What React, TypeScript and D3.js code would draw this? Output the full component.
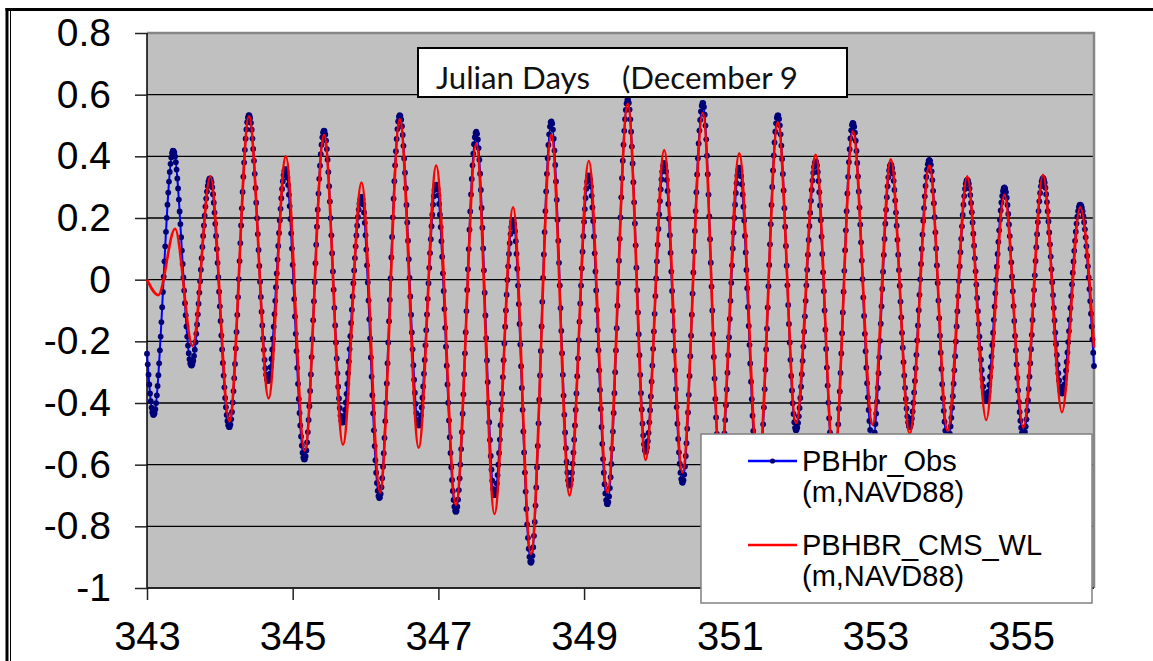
import React, { useEffect, useRef } from 'react';
import * as d3 from 'd3';

// tide extrema (Julian day, water level m NAVD88)
const obsDays = [
  343.0, 343.09, 343.36, 343.61, 343.865, 344.13, 344.4, 344.66, 344.9, 345.16,
  345.43, 345.68, 345.945, 346.19, 346.47, 346.73, 346.97, 347.24, 347.52, 347.77,
  348.025, 348.27, 348.55, 348.8, 349.065, 349.32, 349.6, 349.845, 350.1, 350.35,
  350.63, 350.87, 351.13, 351.39, 351.66, 351.91, 352.18, 352.43, 352.69, 352.96,
  353.21, 353.47, 353.74, 353.99, 354.26, 354.52, 354.77, 355.03, 355.3, 355.56,
  355.81, 356.0,
];
const obsLevels = [
  -0.24, -0.44, 0.42, -0.28, 0.33, -0.48, 0.535, -0.33, 0.36, -0.585,
  0.485, -0.465, 0.27, -0.71, 0.535, -0.475, 0.31, -0.755, 0.48, -0.7,
  0.195, -0.92, 0.515, -0.67, 0.34, -0.73, 0.585, -0.56, 0.38, -0.66,
  0.575, -0.62, 0.365, -0.66, 0.535, -0.49, 0.385, -0.62, 0.51, -0.53,
  0.375, -0.48, 0.39, -0.53, 0.325, -0.395, 0.3, -0.51, 0.33, -0.37,
  0.245, -0.28,
];
const modelDays = [
  343.0, 343.155, 343.385, 343.625, 343.87, 344.13, 344.4, 344.67, 344.905, 345.165,
  345.43, 345.69, 345.945, 346.2, 346.47, 346.73, 346.97, 347.24, 347.52, 347.77,
  348.025, 348.27, 348.55, 348.8, 349.065, 349.32, 349.6, 349.845, 350.1, 350.35,
  350.63, 350.87, 351.13, 351.39, 351.66, 351.91, 352.18, 352.43, 352.69, 352.96,
  353.21, 353.47, 353.74, 353.99, 354.26, 354.52, 354.77, 355.03, 355.3, 355.56,
  355.81, 356.0,
];
const modelLevels = [
  0.0, -0.05, 0.165, -0.215, 0.335, -0.46, 0.53, -0.385, 0.4, -0.555,
  0.47, -0.535, 0.315, -0.69, 0.52, -0.545, 0.37, -0.73, 0.44, -0.76,
  0.235, -0.89, 0.47, -0.7, 0.385, -0.69, 0.57, -0.585, 0.42, -0.625,
  0.54, -0.6, 0.41, -0.62, 0.51, -0.465, 0.405, -0.6, 0.48, -0.47,
  0.39, -0.5, 0.37, -0.49, 0.335, -0.455, 0.275, -0.48, 0.34, -0.43,
  0.235, -0.22,
];

const yTicks = [0.8, 0.6, 0.4, 0.2, 0, -0.2, -0.4, -0.6, -0.8, -1];
const xTicks = [343, 345, 347, 349, 351, 353, 355];
const seriesNames = ['PBHbr_Obs', 'PBHBR_CMS_WL'];
const unitsLabel = '(m,NAVD88)';
const titleText = 'Julian Days    (December 9';
const obsIntervalMinutes = 15;

const W = 1153;
const H = 661;
const plot = { left: 147, right: 1094, top: 33, bottom: 588 };
const font = 'Liberation Sans, Arial, sans-serif';
const markerFill = '#000078';

const App = () => {
  const svgRef = useRef<SVGSVGElement>(null);

  useEffect(() => {
    const svg = d3.select(svgRef.current);
    svg.selectAll('*').remove();

    const x = d3.scaleLinear().domain([343, 356]).range([plot.left, plot.right]);
    const y = d3.scaleLinear().domain([-1, 0.8]).range([plot.bottom, plot.top]);

    // page frame (double rule on the left, heavy rule on top)
    svg.append('line').attr('x1', 7).attr('x2', 7).attr('y1', 8).attr('y2', H)
      .attr('stroke', '#000').attr('stroke-width', 3);
    svg.append('line').attr('x1', 10.5).attr('x2', 10.5).attr('y1', 11).attr('y2', H)
      .attr('stroke', '#000').attr('stroke-width', 1);
    svg.append('line').attr('x1', 5.5).attr('x2', W).attr('y1', 9.5).attr('y2', 9.5)
      .attr('stroke', '#000').attr('stroke-width', 3);

    // plot area
    svg.append('rect')
      .attr('x', plot.left).attr('y', plot.top)
      .attr('width', plot.right - plot.left).attr('height', plot.bottom - plot.top)
      .attr('fill', '#c0c0c0');

    svg.append('g')
      .selectAll('line')
      .data(yTicks.slice(1))
      .enter()
      .append('line')
      .attr('x1', plot.left).attr('x2', plot.right)
      .attr('y1', (d) => y(d)).attr('y2', (d) => y(d))
      .attr('stroke', '#000').attr('stroke-width', 1.3);

    svg.append('path')
      .attr('d', `M${plot.left},${plot.top}H${plot.right}V${plot.bottom}`)
      .attr('fill', 'none').attr('stroke', '#868686').attr('stroke-width', 2.5);
    svg.append('line').attr('x1', plot.left).attr('x2', plot.left)
      .attr('y1', plot.top).attr('y2', plot.bottom + 1)
      .attr('stroke', '#000').attr('stroke-width', 1.5);
    svg.append('line').attr('x1', plot.left).attr('x2', plot.right)
      .attr('y1', plot.bottom).attr('y2', plot.bottom)
      .attr('stroke', '#222').attr('stroke-width', 1.5);

    // axes
    const yAxis = svg.append('g')
      .attr('transform', `translate(${plot.left},0)`)
      .call(d3.axisLeft(y).tickValues(yTicks).tickSize(12).tickPadding(24).tickFormat((d) => String(d)));
    const xAxis = svg.append('g')
      .attr('transform', `translate(0,${plot.bottom})`)
      .call(d3.axisBottom(x).tickValues(xTicks).tickSize(12).tickPadding(22).tickFormat((d) => String(d)));
    [yAxis, xAxis].forEach((g) => {
      g.select('.domain').remove();
      g.selectAll('line').attr('stroke', '#222').attr('stroke-width', 1.5);
      g.selectAll('text').attr('fill', '#000').style('font-family', font);
    });
    yAxis.selectAll('text').style('font-size', '39px');
    xAxis.selectAll('text').style('font-size', '40px');

    // series
    const toPath = (days: number[], levels: number[]) =>
      d3.line<number>()
        .x((_, i) => x(days[i]))
        .y((_, i) => y(levels[i]))
        .curve(d3.curveMonotoneX)(days);

    const obsPath = svg.append('path')
      .attr('d', toPath(obsDays, obsLevels))
      .attr('fill', 'none').attr('stroke', '#0000ff').attr('stroke-width', 2);

    // observation markers at the record interval, placed on the drawn curve
    const node = obsPath.node() as SVGPathElement;
    const total = node.getTotalLength();
    const samples: [number, number][] = [];
    for (let s = 0; s <= total; s += 1.5) {
      const p = node.getPointAtLength(s);
      samples.push([p.x, p.y]);
    }
    const endPt = node.getPointAtLength(total);
    samples.push([endPt.x, endPt.y]);
    const stepDay = obsIntervalMinutes / 60 / 24;
    const n = Math.round((obsDays[obsDays.length - 1] - obsDays[0]) / stepDay);
    const pts: [number, number][] = [];
    let j = 1;
    for (let k = 0; k <= n; k++) {
      const px = x(obsDays[0] + k * stepDay);
      while (j < samples.length - 1 && samples[j][0] < px) j++;
      const a = samples[j - 1];
      const b = samples[j];
      const f = b[0] === a[0] ? 0 : Math.max(0, Math.min(1, (px - a[0]) / (b[0] - a[0])));
      pts.push([px, a[1] + (b[1] - a[1]) * f]);
    }
    svg.append('g')
      .selectAll('circle')
      .data(pts)
      .enter()
      .append('circle')
      .attr('cx', (d) => d[0]).attr('cy', (d) => d[1])
      .attr('r', 2.9)
      .attr('fill', markerFill);

    svg.append('path')
      .attr('d', toPath(modelDays, modelLevels))
      .attr('fill', 'none').attr('stroke', '#ff0000').attr('stroke-width', 2.6);

    // title box
    svg.append('rect')
      .attr('x', 418).attr('y', 48).attr('width', 429).attr('height', 49)
      .attr('fill', '#fff').attr('stroke', '#000').attr('stroke-width', 2);
    svg.append('text')
      .attr('x', 436).attr('y', 89)
      .attr('textLength', 362).attr('lengthAdjust', 'spacingAndGlyphs')
      .style('white-space', 'pre')
      .style('font-family', 'Lato, Open Sans, sans-serif')
      .style('font-size', '30px')
      .attr('fill', '#111')
      .text(titleText);

    // legend
    const legend = svg.append('g');
    legend.append('rect')
      .attr('x', 701).attr('y', 434).attr('width', 391).attr('height', 169)
      .attr('fill', '#fff').attr('stroke', '#808080').attr('stroke-width', 1.5);
    const colors = ['#0000ff', '#ff0000'];
    const rows = [461, 545];
    seriesNames.forEach((name, i) => {
      legend.append('line')
        .attr('x1', 748).attr('x2', 797).attr('y1', rows[i]).attr('y2', rows[i])
        .attr('stroke', colors[i]).attr('stroke-width', i === 0 ? 2.4 : 2.6);
      if (i === 0) {
        legend.append('circle').attr('cx', 772.5).attr('cy', rows[i]).attr('r', 2.6).attr('fill', markerFill);
      }
      legend.append('text')
        .attr('x', 802).attr('y', rows[i] + 10)
        .style('font-family', font).style('font-size', '29px').attr('fill', '#000')
        .text(name);
      legend.append('text')
        .attr('x', 802).attr('y', rows[i] + 41)
        .style('font-family', font).style('font-size', '29px').attr('fill', '#000')
        .text(unitsLabel);
    });
  }, []);

  return (
    <svg
      ref={svgRef}
      width={W}
      height={H}
      style={{ position: 'absolute', left: 0, top: 0, background: '#fff' }}
    />
  );
};

export default App;
